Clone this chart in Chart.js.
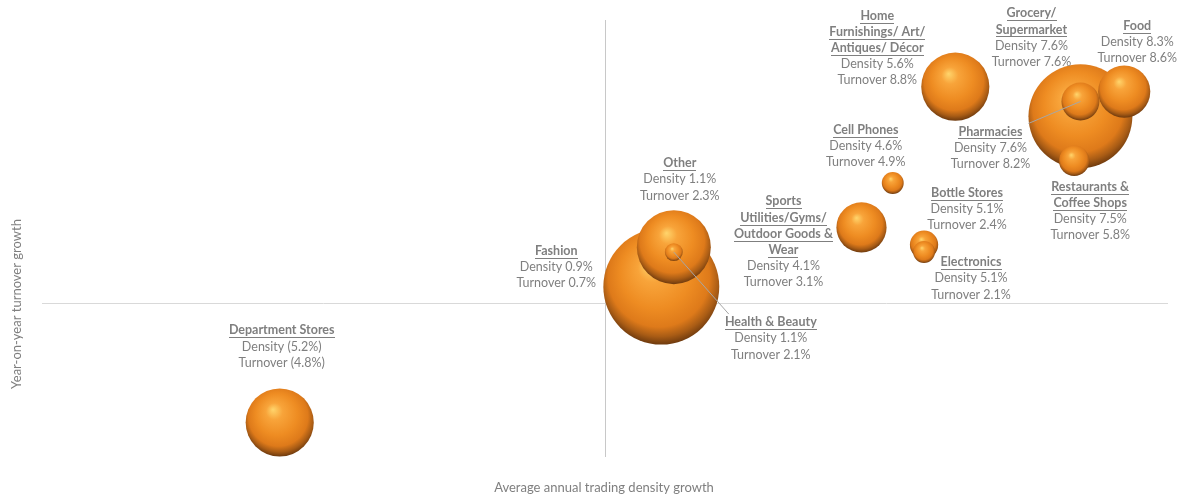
<!DOCTYPE html>
<html>
<head>
<meta charset="utf-8">
<title>Trading density vs turnover growth</title>
<script src="https://cdn.jsdelivr.net/npm/chart.js@4.4.1/dist/chart.umd.min.js"></script>
<style>
    body { margin: 0; background: #fff; }
    #wrap { width: 1182px; height: 500px; position: relative; }
</style>
</head>
<body>
<div id="wrap"><canvas id="bubbleChart"></canvas></div>
<script>
// Categories, largest bubble first so the small ones are drawn on top
const categories = [
    "Fashion", "Grocery/\nSupermarket", "Other", "Home\nFurnishings/ Art/\nAntiques/ Décor",
    "Department Stores", "Food", "Sports\nUtilities/Gyms/\nOutdoor Goods &\nWear", "Pharmacies",
    "Restaurants &\nCoffee Shops", "Bottle Stores", "Electronics", "Cell Phones", "Health & Beauty"
];
const densityGrowth  = [0.9, 7.6, 1.1, 5.6, -5.2, 8.3, 4.1, 7.6, 7.5, 5.1, 5.1, 4.6, 1.1];
const turnoverGrowth = [0.7, 7.6, 2.3, 8.8, -4.8, 8.6, 3.1, 8.2, 5.8, 2.4, 2.1, 4.9, 2.1];
const bubbleWeight   = [33.6, 27.0, 13.7, 11.6, 11.6, 6.8, 6.3, 3.6, 2.3, 2.0, 1.2, 1.2, 0.8];

// label placement relative to bubble centre (first line centre), and leader lines
const labelOffset = [
    [-105, -36], [-49, -103], [6, -84], [-78, -71], [2, -92], [13, -66], [-78, -26],
    [-90, 30], [16, 26], [43, -52], [47, 10], [-27, -53], [97, 70]
];
const leaderEnd = { 7: [-52, 22], 12: [55, 62] };

const TEXT_GREY = '#7f7f7f';
const FONT = 'Lato, "Open Sans", sans-serif';

function pct(v) {
    return v < 0 ? '(' + Math.abs(v).toFixed(1) + '%)' : v.toFixed(1) + '%';
}

function sphereFill(ctx) {
    const chart = ctx.chart;
    if (ctx.type !== 'data' || !chart.chartArea) return '#ED8B22';
    const x = chart.scales.x.getPixelForValue(ctx.raw.x);
    const y = chart.scales.y.getPixelForValue(ctx.raw.y);
    const r = ctx.raw.r;
    const g = chart.ctx.createRadialGradient(x - r * 0.2, y - r * 0.38, 0, x, y - r * 0.12, r * 1.12);
    g.addColorStop(0, '#FFD56C');
    g.addColorStop(0.22, '#F8A43A');
    g.addColorStop(0.55, '#EE8C22');
    g.addColorStop(0.78, '#DE7A1A');
    g.addColorStop(0.9, '#A95C15');
    g.addColorStop(1, '#6E3A0E');
    return g;
}

const bubbleData = categories.map((c, i) => ({
    x: densityGrowth[i],
    y: turnoverGrowth[i],
    r: 10 * Math.sqrt(bubbleWeight[i])
}));

// draws the data labels, leader lines and axis titles
const labelPlugin = {
    id: 'bubbleLabels',
    afterDatasetsDraw(chart) {
        const ctx = chart.ctx;
        const pts = chart.getDatasetMeta(0).data;
        ctx.save();
        ctx.textAlign = 'center';
        ctx.textBaseline = 'middle';
        ctx.fillStyle = TEXT_GREY;

        Object.keys(leaderEnd).forEach(k => {
            const p = pts[k];
            ctx.strokeStyle = '#a6a6a6';
            ctx.lineWidth = 1;
            ctx.beginPath();
            ctx.moveTo(p.x, p.y);
            ctx.lineTo(p.x + leaderEnd[k][0], p.y + leaderEnd[k][1]);
            ctx.stroke();
        });

        categories.forEach((name, i) => {
            const p = pts[i];
            const cx = p.x + labelOffset[i][0];
            let y = p.y + labelOffset[i][1];
            const lines = name.split('\n');
            ctx.font = 'bold 12.5px ' + FONT;
            lines.forEach(line => {
                ctx.fillText(line, cx, y);
                const w = ctx.measureText(line).width;
                ctx.fillRect(Math.round(cx - w / 2), Math.round(y + 7), Math.round(w), 1);
                y += 16.2;
            });
            ctx.font = '12.5px ' + FONT;
            ctx.fillText('Density ' + pct(densityGrowth[i]), cx, y);
            y += 16.2;
            ctx.fillText('Turnover ' + pct(turnoverGrowth[i]), cx, y);
        });

        // axis titles
        ctx.font = '13px ' + FONT;
        ctx.fillText('Average annual trading density growth', 604, 488);
        ctx.translate(17, 304);
        ctx.rotate(-Math.PI / 2);
        ctx.fillText('Year-on-year turnover growth', 0, 0);
        ctx.restore();
    }
};

const zeroOnly = scale => { scale.ticks = [{ value: 0 }]; };

new Chart(document.getElementById('bubbleChart'), {
    type: 'bubble',
    data: {
        datasets: [{
            label: 'Retail categories',
            data: bubbleData,
            backgroundColor: sphereFill,
            borderWidth: 0,
            clip: false
        }]
    },
    options: {
        responsive: true,
        maintainAspectRatio: false,
        animation: false,
        events: [],
        layout: { autoPadding: false, padding: { left: 42, right: 14, top: 20, bottom: 43 } },
        plugins: {
            legend: { display: false },
            tooltip: { enabled: false }
        },
        scales: {
            x: {
                type: 'linear',
                min: -9,
                max: 9,
                afterBuildTicks: zeroOnly,
                ticks: { display: false },
                grid: { drawTicks: false, color: '#c8c8c8', lineWidth: 1 },
                border: { display: false }
            },
            y: {
                type: 'linear',
                min: -6.2,
                max: 11.5,
                afterBuildTicks: zeroOnly,
                ticks: { display: false },
                grid: { drawTicks: false, color: '#d9d9d9', lineWidth: 1 },
                border: { display: false }
            }
        }
    },
    plugins: [labelPlugin]
});
</script>
</body>
</html>
